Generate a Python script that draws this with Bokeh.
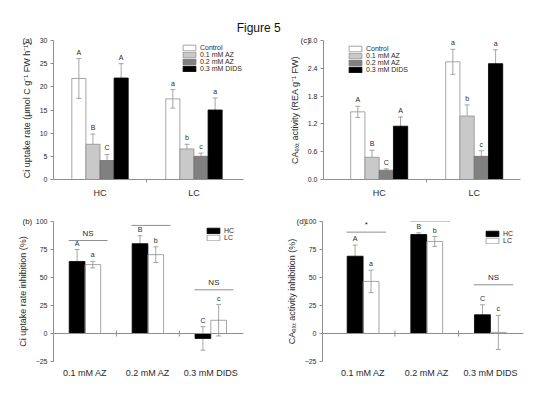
import math
from bokeh.plotting import figure
from bokeh.models import (Range1d, FixedTicker, Legend, LegendItem, Label, Span, Title,
                          PrintfTickFormatter)
from bokeh.layouts import column, row
from bokeh.embed import file_html
from bokeh.resources import INLINE
from bokeh.core.properties import value

# ---------------- data ----------------
treatments = ["Control", "0.1 mM AZ", "0.2 mM AZ", "0.3 mM DIDS"]
co2_levels = ["HC", "LC"]

# (a) Ci uptake rate, per treatment: [HC, LC]
ci_uptake = [[21.8, 17.4], [7.6, 6.6], [4.1, 5.0], [21.9, 15.0]]
ci_uptake_err = [[4.3, 2.0], [2.2, 1.0], [1.3, 0.7], [3.1, 2.6]]
ci_uptake_letters = [["A", "a"], ["B", "b"], ["C", "c"], ["A", "a"]]
ci_uptake_ticks = [0, 5, 10, 15, 20, 25, 30]

# (c) CAext activity, per treatment: [HC, LC]
ca_ext = [[1.46, 2.54], [0.48, 1.37], [0.20, 0.50], [1.15, 2.50]]
ca_ext_err = [[0.12, 0.27], [0.15, 0.24], [0.03, 0.12], [0.20, 0.30]]
ca_ext_letters = [["A", "a"], ["B", "b"], ["C", "c"], ["A", "a"]]
ca_ext_ticks = [0.0, 0.6, 1.2, 1.8, 2.4, 3.0]

inhibitors = ["0.1 mM AZ", "0.2 mM AZ", "0.3 mM DIDS"]
inhib_ticks = [-25, 0, 25, 50, 75, 100]

# (b) Ci uptake rate inhibition (%)
ci_inhib_hc = [64.3, 80.2, -4.4]
ci_inhib_hc_err = [10.7, 7.1, 10.5]
ci_inhib_lc = [61.5, 70.4, 11.8]
ci_inhib_lc_err = [2.9, 7.0, 14.0]
ci_inhib_letters_hc = ["A", "B", "C"]
ci_inhib_letters_lc = ["a", "b", "c"]
ci_inhib_sig = ["NS", "*", "NS"]
ci_inhib_sig_level = [83.0, 96.5, 39.0]

# (d) CAext activity inhibition (%)
ca_inhib_hc = [69.0, 88.4, 16.7]
ca_inhib_hc_err = [10.0, 1.5, 8.9]
ca_inhib_lc = [46.5, 82.2, 1.0]
ca_inhib_lc_err = [10.0, 4.4, 15.2]
ca_inhib_letters_hc = ["A", "B", "C"]
ca_inhib_letters_lc = ["a", "b", "c"]
ca_inhib_sig = ["*", "*", "NS"]
ca_inhib_sig_level = [90.5, 100.0, 43.5]

# ---------------- style ----------------
FONT = "Liberation Sans"
AXIS_COLOR = "#8f8f8f"
TEXT_COLOR = "#2a2a2a"
ERR_COLOR = "#8f8f8f"
treat_fill = [None, "#c9c9c9", "#808080", "#000000"]
treat_line = ["#8f8f8f", "#8f8f8f", "#707070", "#000000"]
hc_fill, hc_line = "#000000", "#000000"
lc_fill, lc_line = None, "#8f8f8f"


def make_fig(width, height, xr, yr, left, right, top, bottom):
    p = figure(width=width, height=height, x_range=Range1d(*xr), y_range=Range1d(*yr),
               output_backend="svg", toolbar_location=None,
               min_border_left=left, min_border_right=right,
               min_border_top=top, min_border_bottom=bottom)
    p.outline_line_color = None
    p.grid.visible = False
    for ax in p.axis:
        ax.axis_line_color = AXIS_COLOR
        ax.axis_line_width = 1
        ax.major_tick_line_color = AXIS_COLOR
        ax.minor_tick_line_color = AXIS_COLOR
        ax.major_label_text_font = FONT
        ax.major_label_text_color = TEXT_COLOR
        ax.axis_label_text_font = FONT
        ax.axis_label_text_font_style = "normal"
        ax.axis_label_text_color = TEXT_COLOR
    p.yaxis.major_tick_in = 0
    p.yaxis.major_tick_out = 3
    p.yaxis.major_label_text_font_size = "7px"
    p.yaxis.major_label_standoff = 3
    p.yaxis.axis_label_text_font_size = "9px"
    p.yaxis.axis_label_standoff = 5
    p.xaxis.major_label_text_font_size = "9px"
    return p


def add_series(p, xs, vals, errs, letters, fill, line, width):
    tops = [v + e for v, e in zip(vals, errs)]
    bots = [v - e for v, e in zip(vals, errs)]
    p.segment(x0=xs, y0=bots, x1=xs, y1=tops, line_color=ERR_COLOR, line_width=0.8)
    p.scatter(x=xs + xs, y=tops + bots, marker="dash", size=5, line_color=ERR_COLOR, line_width=0.8)
    r = p.vbar(x=xs, top=vals, bottom=0, width=width, fill_color=fill,
               fill_alpha=0 if fill is None else 1, line_color=line, line_width=0.8)
    p.text(x=xs, y=tops, text=letters, text_align="center", text_baseline="bottom",
           y_offset=-3, text_font=value(FONT), text_font_size="7px", text_color=TEXT_COLOR)
    return r


def style_legend(p, items, loc):
    leg = Legend(items=items, location=loc, glyph_width=16, glyph_height=7, label_height=7,
                 label_standoff=3, spacing=0, padding=0, margin=0,
                 border_line_color=None, background_fill_alpha=0,
                 label_text_font=FONT, label_text_font_size="7px",
                 label_text_color=TEXT_COLOR)
    p.add_layout(leg)


def panel_label(p, txt, dx):
    p.add_layout(Title(text=txt, align="left", offset=dx, standoff=-9,
                       vertical_align="bottom", text_font=FONT, text_font_size="8px",
                       text_font_style="normal", text_color=TEXT_COLOR), "above")


def treatment_panel(width, height, xr, yr, borders, data, errs, letters, ticks, ylabel,
                    leg_loc, lab, dx, fmt=None):
    p = make_fig(width, height, xr, yr, *borders)
    centers = [i + 0.5 for i in range(len(co2_levels))]
    bw = 0.15
    offs = [(-1.5 + k) * bw for k in range(len(treatments))]
    items = []
    for k, t in enumerate(treatments):
        xs = [c + offs[k] for c in centers]
        r = add_series(p, xs, data[k], errs[k], letters[k], treat_fill[k], treat_line[k], bw)
        items.append(LegendItem(label=t, renderers=[r]))
    p.xaxis.ticker = FixedTicker(ticks=centers, minor_ticks=[1.0])
    p.xaxis.major_label_overrides = {c: n for c, n in zip(centers, co2_levels)}
    p.xaxis.major_tick_in = 0
    p.xaxis.major_tick_out = 0
    p.xaxis.minor_tick_in = 0
    p.xaxis.minor_tick_out = 3
    p.xaxis.major_label_standoff = 5
    p.yaxis.ticker = FixedTicker(ticks=ticks)
    if fmt:
        p.yaxis.formatter = PrintfTickFormatter(format=fmt)
    p.yaxis.axis_label = ylabel
    style_legend(p, items, leg_loc)
    panel_label(p, lab, dx)
    return p


def inhib_panel(width, height, xr, yr, borders, hc, hc_err, lc, lc_err, l_hc, l_lc,
                sig, sig_lv, ylabel, leg_loc, lab, dx):
    p = make_fig(width, height, xr, yr, *borders)
    centers = [i + 0.5 for i in range(len(inhibitors))]
    bounds = [i + 1.0 for i in range(len(inhibitors) - 1)]
    # zero line with small ticks between categories
    p.add_layout(Span(location=0, dimension="width", line_color=AXIS_COLOR, line_width=1))
    p.scatter(x=bounds, y=[0] * len(bounds), marker="dash", angle=math.pi / 2, size=6,
              line_color=AXIS_COLOR, line_width=1)
    bw = 0.25
    xs_hc = [c - bw / 2 for c in centers]
    xs_lc = [c + bw / 2 for c in centers]
    r_hc = add_series(p, xs_hc, hc, hc_err, l_hc, hc_fill, hc_line, bw)
    r_lc = add_series(p, xs_lc, lc, lc_err, l_lc, lc_fill, lc_line, bw)
    sx = [c + 0.05 for c in centers]
    p.segment(x0=[x - 0.31 for x in sx], y0=sig_lv, x1=[x + 0.31 for x in sx], y1=sig_lv,
              line_color=AXIS_COLOR, line_width=1)
    p.text(x=sx, y=sig_lv, text=sig, text_align="center", text_baseline="bottom", y_offset=-3,
           text_font=value(FONT), text_font_size="8px", text_color=TEXT_COLOR)
    # category labels at the bottom, no line
    p.xaxis.ticker = FixedTicker(ticks=centers)
    p.xaxis.major_label_overrides = {c: n for c, n in zip(centers, inhibitors)}
    p.xaxis.axis_line_color = None
    p.xaxis.major_tick_line_color = None
    p.xaxis.major_label_standoff = 0
    p.yaxis.ticker = FixedTicker(ticks=inhib_ticks)
    p.yaxis.axis_label = ylabel
    style_legend(p, [LegendItem(label="HC", renderers=[r_hc]),
                     LegendItem(label="LC", renderers=[r_lc])], leg_loc)
    panel_label(p, lab, dx)
    return p


pa = treatment_panel(269, 172, (0.005, 2.027), (0, 30), (53, 26, 4, 28),
                     ci_uptake, ci_uptake_err, ci_uptake_letters, ci_uptake_ticks,
                     "Ci uptake rate (\u03bcmol C g\u207b\u00b9 FW h\u207b\u00b9)", (128, 107), "(a)", -31)
pc = treatment_panel(259, 172, (-0.086, 1.987), (0, 3.0), (54, 8, 2, 29),
                     ca_ext, ca_ext_err, ca_ext_letters, ca_ext_ticks,
                     "CA\u2091\u2093\u209c activity (REA g\u207b\u00b9 FW)", (24, 106), "(c)", -23,
                     fmt="%.1f")
pb = inhib_panel(269, 174, (0.0, 3.02), (-25, 100), (53, 26, 12, 20),
                 ci_inhib_hc, ci_inhib_hc_err, ci_inhib_lc, ci_inhib_lc_err,
                 ci_inhib_letters_hc, ci_inhib_letters_lc, ci_inhib_sig, ci_inhib_sig_level,
                 "Ci uptake rate inhibition (%)", (152, 120), "(b)", -31)
pd = inhib_panel(259, 174, (-0.1375, 3.02), (-25, 100), (53, 5, 13, 21),
                 ca_inhib_hc, ca_inhib_hc_err, ca_inhib_lc, ca_inhib_lc_err,
                 ca_inhib_letters_hc, ca_inhib_letters_lc, ca_inhib_sig, ca_inhib_sig_level,
                 "CA\u2091\u2093\u209c activity inhibition (%)", (162, 117), "(d)", -26)

# title strip
tf = figure(width=528, height=36, x_range=Range1d(0, 1), y_range=Range1d(0, 1),
            output_backend="svg", toolbar_location=None, min_border=0,
            x_axis_location=None, y_axis_location=None)
tf.outline_line_color = None
tf.grid.visible = False
tf.add_layout(Label(x=0.489, y=0.25, text="Figure 5", text_align="center",
                    text_baseline="middle", text_font=FONT, text_font_size="12px",
                    text_color="#111111"))

layout = column(tf, row(pa, pc), row(pb, pd))

with open("out.html", "w") as f:
    f.write(file_html(layout, INLINE))
